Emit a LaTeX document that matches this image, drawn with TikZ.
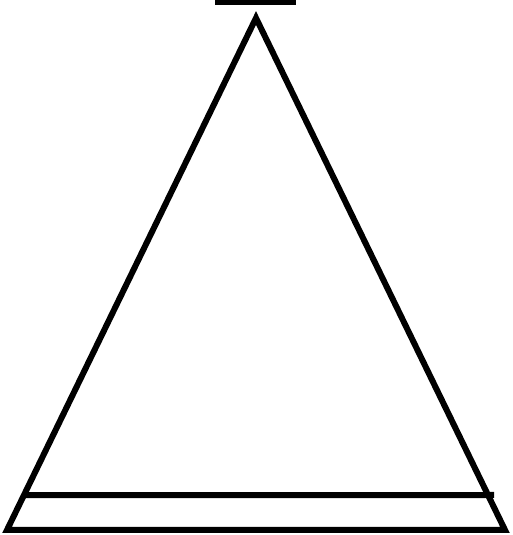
\documentclass[tikz,border=0pt]{standalone}
\usepackage{tikz}
\usetikzlibrary{calc}

\begin{document}
\begin{tikzpicture}[x=1pt, y=1pt, line join=miter]
    \tikzstyle{outline} = [draw=black, line width=6pt]
    \tikzstyle{bar} = [fill=black]

    \useasboundingbox (0,0) rectangle (512,535);

    % corners of the triangle
    \coordinate (apex) at (256,517);
    \coordinate (left) at (7,5);
    \coordinate (right) at (505,5);

    % cross line just above the base
    \coordinate (crossleft) at ($(left)!0.0683!(apex)$);
    \coordinate (crossright) at (494,40);

    \draw[outline] (apex) -- (left) -- (right) -- cycle;
    \draw[outline] (crossleft) -- (crossright);

    % bar above the apex
    \fill[bar] (215,530) rectangle (296,535);
\end{tikzpicture}
\end{document}
